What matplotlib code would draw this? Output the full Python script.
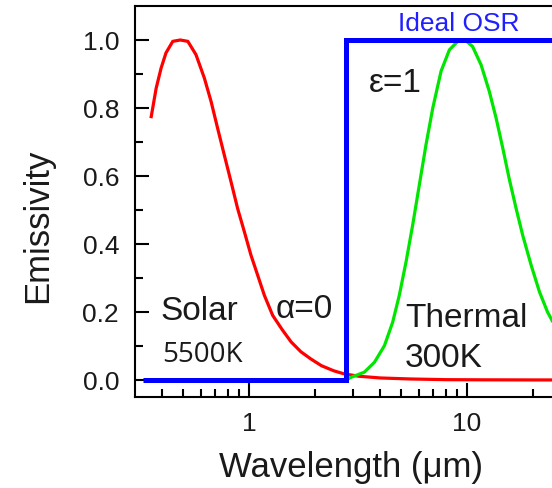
import matplotlib
matplotlib.use("Agg")
import matplotlib.pyplot as plt
from matplotlib.ticker import FixedLocator, NullFormatter, FixedFormatter

plt.rcParams['font.family'] = ['Liberation Sans', 'DejaVu Sans']

# Normalised solar (5500 K) emission spectrum
solar_wl = [0.355, 0.375, 0.395, 0.416, 0.447, 0.484, 0.524, 0.571, 0.624, 0.670,
            0.718, 0.770, 0.827, 0.887, 0.952, 1.021, 1.096, 1.176, 1.284, 1.42,
            1.56, 1.73, 1.92, 2.15, 2.45, 2.73, 3.2, 4.0, 5.5, 8.0, 12.0, 20.0, 30.0]
solar_em = [0.770, 0.858, 0.917, 0.962, 0.996, 1.000, 0.996, 0.957, 0.888, 0.819,
            0.740, 0.662, 0.583, 0.504, 0.436, 0.367, 0.308, 0.249, 0.190, 0.148,
            0.112, 0.083, 0.062, 0.042, 0.027, 0.018, 0.011, 0.006, 0.003, 0.001,
            0.0005, 0.0002, 0.0001]

# Normalised thermal (300 K) emission spectrum
thermal_wl = [2.8, 2.94, 3.38, 3.76, 4.18, 4.56, 4.89, 5.25, 5.63, 6.04,
              6.48, 6.96, 7.60, 8.30, 9.06, 9.55, 10.0, 10.6, 11.6, 12.65,
              13.6, 14.6, 15.6, 16.8, 18.0, 19.7, 21.5, 23.4, 24.8, 28.0, 30.0]
thermal_em = [0.0, 0.008, 0.023, 0.052, 0.101, 0.170, 0.249, 0.347, 0.455, 0.573,
              0.691, 0.799, 0.908, 0.971, 0.996, 1.000, 0.995, 0.981, 0.927, 0.849,
              0.770, 0.681, 0.593, 0.504, 0.426, 0.337, 0.259, 0.200, 0.170, 0.115,
              0.090]

# Ideal optical solar reflector: step from 0 to 1
osr_wl = [0.327, 2.8, 2.8, 30.0]
osr_em = [0.0, 0.0, 1.0, 1.0]

x_major = [1, 10]
x_major_labels = ['1', '10']
x_minor = [0.4, 0.5, 0.6, 0.7, 0.8, 0.9, 2, 3, 4, 5, 6, 7, 8, 9, 20]
y_major = [0.0, 0.2, 0.4, 0.6, 0.8, 1.0]
y_major_labels = ['0.0', '0.2', '0.4', '0.6', '0.8', '1.0']
y_minor = [0.1, 0.3, 0.5, 0.7, 0.9]

fig = plt.figure(figsize=(5.52, 4.89), dpi=100)
ax = fig.add_axes([0.2446, 0.1861, 0.7899, 0.7996])

ax.plot(solar_wl, solar_em, color='#ff0000', lw=2.3, solid_capstyle='butt', zorder=3)
ax.plot(thermal_wl, thermal_em, color='#00e600', lw=2.3, solid_capstyle='butt', zorder=3)
ax.plot(osr_wl, osr_em, color='#0000ff', lw=3.6, solid_joinstyle='miter',
        solid_capstyle='butt', zorder=4)

ax.set_xscale('log')
ax.set_xlim(0.3, 30)
ax.set_ylim(-0.05, 1.10)

ax.xaxis.set_major_locator(FixedLocator(x_major))
ax.xaxis.set_major_formatter(FixedFormatter(x_major_labels))
ax.xaxis.set_minor_locator(FixedLocator(x_minor))
ax.xaxis.set_minor_formatter(NullFormatter())
ax.yaxis.set_major_locator(FixedLocator(y_major))
ax.yaxis.set_major_formatter(FixedFormatter(y_major_labels))
ax.yaxis.set_minor_locator(FixedLocator(y_minor))

for s in ax.spines.values():
    s.set_linewidth(1.5)
    s.set_color('black')

ax.tick_params(which='major', direction='in', length=10, width=1.5,
               labelsize=19, colors='black', labelcolor='#1a1a1a')
ax.tick_params(which='minor', direction='in', length=5.5, width=1.5)
ax.tick_params(axis='x', which='major', pad=10)
ax.tick_params(axis='y', which='major', pad=11.5)

ax.set_xlabel('Wavelength (μm)', fontsize=25, color='#1a1a1a')
ax.set_ylabel('Emissivity', fontsize=25, color='#1a1a1a')
ax.xaxis.set_label_coords(0.495, -0.136)
ax.yaxis.set_label_coords(-0.186, 0.44)

txt = dict(fontsize=24, color='#1a1a1a')
ax.text(0.391, 0.18, 'Solar', ha='left', va='baseline', **txt)
ax.text(0.399, 0.056, '5500K', ha='left', va='baseline', fontsize=20,
        color='#1a1a1a', family=['Open Sans', 'DejaVu Sans'])
ax.text(1.33, 0.186, 'α=0', ha='left', va='baseline', **txt)
ax.text(3.55, 0.85, 'ε=1', ha='left', va='baseline', **txt)
ax.text(5.2, 0.16, 'Thermal', ha='left', va='baseline', **txt)
ax.text(5.2, 0.041, '300K', ha='left', va='baseline', **txt)
ax.text(9.2, 1.03, 'Ideal OSR', ha='center', va='baseline', fontsize=19,
        color='#1f1fff')

fig.savefig('out.png', dpi=100)
